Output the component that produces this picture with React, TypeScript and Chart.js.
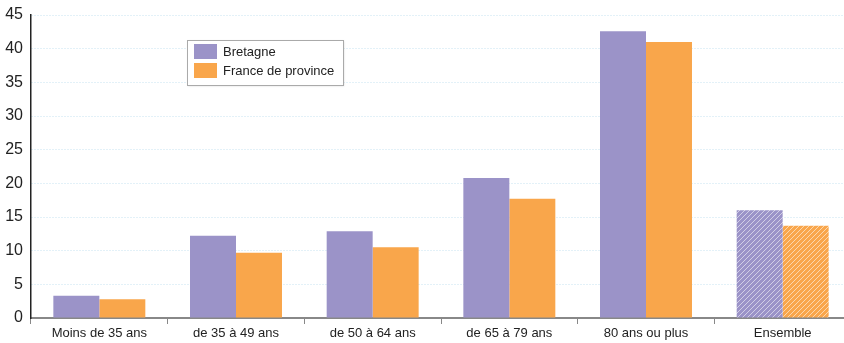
import React, { useEffect, useRef } from "react";
import { Chart, registerables } from "chart.js";

Chart.register(...registerables);

const categories = ["Moins de 35 ans", "de 35 à 49 ans", "de 50 à 64 ans", "de 65 à 79 ans", "80 ans ou plus", "Ensemble"];
const bretagne = [3.3, 12.2, 12.9, 20.8, 42.6, 16.0];
const franceProvince = [2.8, 9.7, 10.5, 17.7, 41.0, 13.7];
const seriesNames = ["Bretagne", "France de province"];
const yTicks = [0, 5, 10, 15, 20, 25, 30, 35, 40, 45];

const PURPLE = "#9b93c8";
const ORANGE = "#f9a64b";
const FONT = "'Liberation Sans', Arial, sans-serif";

function hatch(color: string): CanvasPattern | string {
  const c = document.createElement("canvas");
  const s = 5;
  c.width = s;
  c.height = s;
  const ctx = c.getContext("2d");
  if (!ctx) return color;
  ctx.fillStyle = color;
  ctx.fillRect(0, 0, s, s);
  ctx.strokeStyle = "rgba(255,255,255,0.55)";
  ctx.lineWidth = 1;
  ctx.beginPath();
  ctx.moveTo(-1, s + 1);
  ctx.lineTo(s + 1, -1);
  ctx.moveTo(-1 - s, s + 1);
  ctx.lineTo(1, -1);
  ctx.moveTo(s - 1, s + 1);
  ctx.lineTo(2 * s + 1, -1);
  ctx.stroke();
  const p = ctx.createPattern(c, "repeat");
  return p || color;
}

const legendPlugin = {
  id: "customLegend",
  afterDraw(chart: any) {
    const ctx = chart.ctx;
    ctx.save();
    const x = 187, y = 40, w = 156, h = 45;
    ctx.shadowColor = "rgba(0,0,0,0.15)";
    ctx.shadowOffsetX = 1;
    ctx.shadowOffsetY = 1;
    ctx.shadowBlur = 2;
    ctx.fillStyle = "#fff";
    ctx.fillRect(x, y, w, h);
    ctx.shadowColor = "transparent";
    ctx.strokeStyle = "#aaa";
    ctx.lineWidth = 1;
    ctx.strokeRect(x + 0.5, y + 0.5, w, h);
    const colors = [PURPLE, ORANGE];
    ctx.font = `13px ${FONT}`;
    ctx.textBaseline = "middle";
    ctx.textAlign = "left";
    seriesNames.forEach((name, i) => {
      const sy = y + 4 + i * 19;
      ctx.fillStyle = colors[i];
      ctx.fillRect(x + 7, sy, 23, 15);
      ctx.fillStyle = "#222";
      ctx.fillText(name, x + 36, sy + 8);
    });
    ctx.restore();
  },
};

export default function App() {
  const ref = useRef<HTMLCanvasElement>(null);
  useEffect(() => {
    if (!ref.current) return;
    const bg1: any[] = bretagne.map((_, i) => (i === categories.length - 1 ? hatch(PURPLE) : PURPLE));
    const bg2: any[] = franceProvince.map((_, i) => (i === categories.length - 1 ? hatch(ORANGE) : ORANGE));
    const chart = new Chart(ref.current, {
      type: "bar",
      data: {
        labels: categories,
        datasets: [
          { label: seriesNames[0], data: bretagne, backgroundColor: bg1, borderWidth: 0, categoryPercentage: 0.673, barPercentage: 1 },
          { label: seriesNames[1], data: franceProvince, backgroundColor: bg2, borderWidth: 0, categoryPercentage: 0.673, barPercentage: 1 },
        ],
      },
      options: {
        animation: false,
        responsive: false,
        maintainAspectRatio: false,
        layout: { padding: { top: 15, right: 0, left: 0, bottom: 0 } },
        plugins: { legend: { display: false }, tooltip: { enabled: false } },
        scales: {
          x: {
            offset: true,
            grid: { offset: true, drawOnChartArea: false, drawTicks: true, tickLength: 6, color: "#888", lineWidth: 1 },
            border: { display: true, color: "#888", width: 2 },
            ticks: { color: "#222", font: { family: FONT, size: 13 }, padding: 2, maxRotation: 0, autoSkip: false },
            afterFit(scale: any) { scale.height = 25; scale.paddingLeft = 0; scale.paddingRight = 0; },
          },
          y: {
            min: 0,
            max: 45,
            afterBuildTicks(scale: any) { scale.ticks = yTicks.map((v) => ({ value: v })); },
            grid: { color: "#c6e3f1", lineWidth: 1, drawTicks: false },
            border: { display: true, color: "#222", width: 1.5, dash: [1, 2] },
            ticks: { color: "#222", font: { family: FONT, size: 16 }, padding: 8 },
            afterFit(scale: any) { scale.width = 31; scale.paddingTop = 0; scale.paddingBottom = 0; },
          },
        },
      },
      plugins: [legendPlugin],
    });
    return () => chart.destroy();
  }, []);
  return (
    <div style={{ position: "absolute", left: 0, top: 0, width: 844, height: 343, overflow: "hidden", background: "#fff" }}>
      <canvas ref={ref} width={851} height={343} style={{ display: "block" }} />
    </div>
  );
}
